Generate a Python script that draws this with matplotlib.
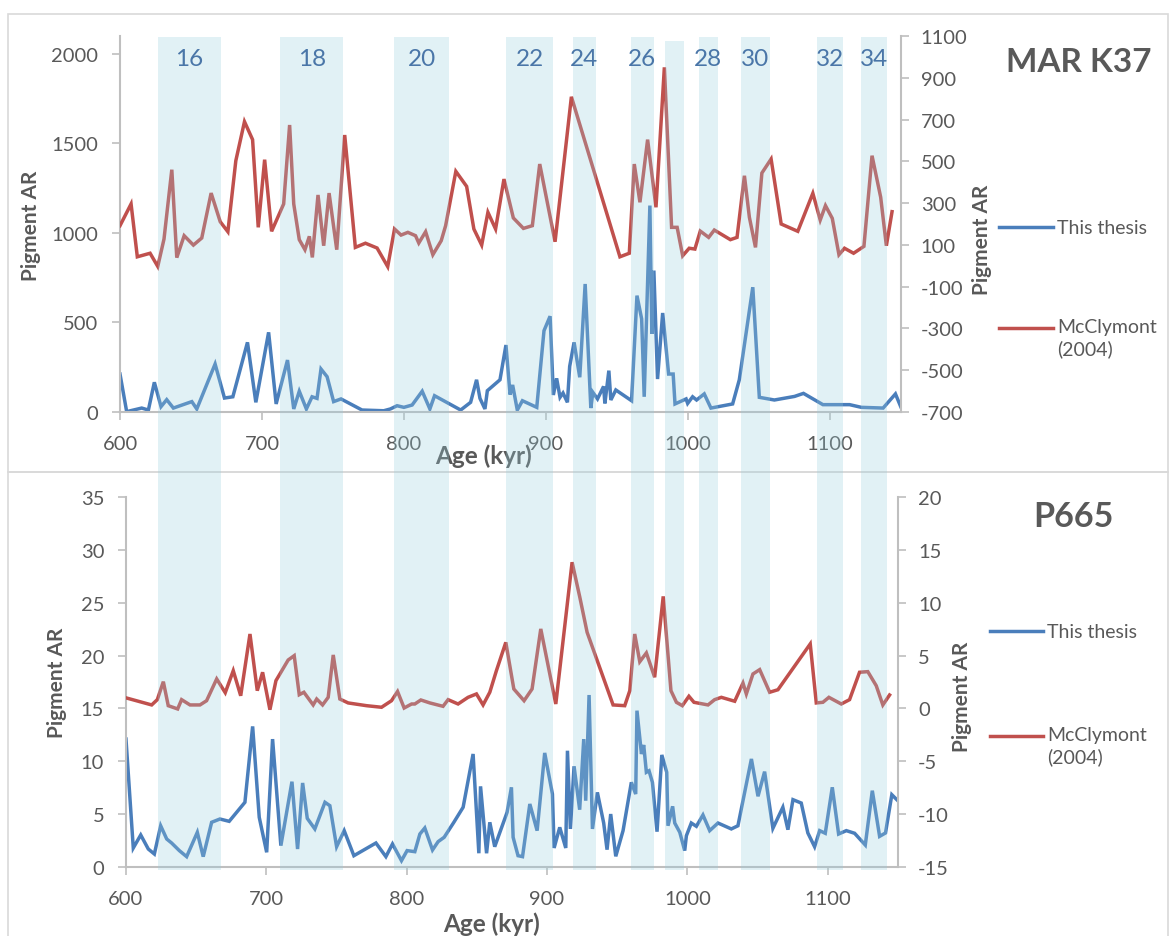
import matplotlib
matplotlib.use("Agg")
import matplotlib.pyplot as plt
from matplotlib.patches import Rectangle
from matplotlib.lines import Line2D
from matplotlib.transforms import blended_transform_factory

plt.rcParams['font.family'] = ['Lato', 'DejaVu Sans']
plt.rcParams['axes.unicode_minus'] = False

# ---------------- data ----------------
mar_thesis_age = [600, 604.7, 615.3, 620, 624.2, 628.9, 632.9, 637.6, 650.6, 654.1, 667, 673.6, 679.5,
                  689.8, 695.7, 704.7, 710, 718, 722.4, 726.3, 731.3, 735.3, 738.8, 741.6, 745.9, 750.5,
                  755.7, 770.5, 785.8, 790.5, 795.2, 800, 805.8, 812.9, 818.3, 821.6, 840, 847, 851.2,
                  853.6, 857.1, 858.8, 867.7, 871.9, 874.8, 876.6, 879.9, 883.5, 893.6, 898.7, 903,
                  905.3, 907.6, 910, 912.1, 915.2, 916.8, 919.9, 923.9, 927.7, 931.7, 933.1, 936.4,
                  940.7, 941.6, 944.4, 945.8, 949.3, 960.4, 964.2, 967.5, 969.3, 973.3, 974.7, 976.1,
                  978.7, 982.3, 986.5, 989.7, 991, 998.8, 999.9, 1003.4, 1006.2, 1011.6, 1016.3, 1031.6,
                  1036.3, 1045.8, 1050.4, 1061, 1075.2, 1081.5, 1095.2, 1114, 1122.3, 1137.6, 1146.3, 1150]
mar_thesis = [212, 2, 22, 11, 166, 30, 69, 22, 58, 17, 268, 78, 85,
              389, 54, 445, 45, 290, 17, 116, 17, 85, 76, 240, 197, 58,
              73, 11, 7, 17, 35, 26, 39, 116, 17, 91, 11, 54, 180,
              76, 17, 119, 180, 374, 97, 151, 11, 63, 26, 454, 535,
              95, 188, 82, 106, 54, 255, 389, 194, 715, 22, 110, 73,
              143, 48, 231, 67, 123, 63, 650, 520, 85, 1153, 436, 790,
              184, 553, 212, 212, 45, 73, 48, 85, 67, 101, 22, 45,
              180, 697, 82, 67, 87, 104, 41, 41, 26, 22, 101, 30]

mar_mcc_age = [600, 607.8, 612.2, 621.2, 626.6, 631, 636.5, 640, 645.2, 651.7, 657.6, 664.2, 670.6,
               676, 681.6, 687.7, 693.4, 697.4, 701.9, 706.8, 715.3, 719.5, 722.4, 726.3, 730.3,
               733.4, 735.5, 739.5, 743.5, 747.3, 752.7, 758.3, 765.8, 772.9, 781.1, 788.6, 793.4,
               798, 802.8, 808.2, 810.5, 815.3, 820.4, 826.3, 829.4, 836.6, 844.2, 849.3, 854.8,
               859.2, 864.6, 870.5, 877.1, 884.2, 890.5, 895.7, 906.5, 918, 952.2, 958.8, 962.3,
               966.3, 971.7, 977.6, 983.5, 988.6, 992.5, 996.4, 1001, 1005, 1008.8, 1014.7, 1018.7,
               1030, 1034.7, 1039.9, 1043.4, 1047.7, 1052.2, 1058.7, 1065.8, 1077.5, 1088.1, 1093.3,
               1097, 1101.8, 1106.5, 1110.4, 1116.8, 1124.1, 1129.8, 1135.9, 1139.9, 1143.9]
mar_mcc = [192, 296, 43, 60, -3, 128, 460, 39, 144, 99, 133, 348, 211,
           163, 503, 690, 604, 184, 508, 165, 296, 674, 296, 125, 77,
           141, 40, 339, 96, 348, 77, 626, 88, 108, 85, -4, 176,
           147, 160, 144, 109, 163, 53, 120, 192, 452, 380, 176, 99,
           256, 176, 415, 229, 179, 192, 487, 115, 809, 43, 60, 487,
           304, 604, 280, 950, 184, 184, 48, 84, 80, 166, 136, 171,
           125, 136, 431, 232, 88, 444, 511, 200, 165, 347, 219,
           288, 227, 53, 84, 60, 93, 527, 328, 96, 259]

p665_thesis_age = [600.2, 605.4, 610.7, 616.1, 620.4, 624.9, 629.2, 632.7, 638.2, 643.4, 651, 655.2,
                   661.2, 667.1, 673.7, 684.9, 690.4, 695.1, 700.4, 704.6, 710.5, 718.4, 722.4, 726,
                   729.3, 734.7, 741.9, 745.4, 750.2, 755.6, 762.5, 778.2, 785.3, 790, 796.4, 800.4,
                   805.9, 809.5, 813, 818.5, 822.5, 826.8, 833.7, 840.3, 847.4, 851.5, 852.7, 857,
                   859.3, 862.8, 871.6, 874.7, 875.9, 879.4, 882.6, 887.8, 893, 898.4, 903.9, 905.1,
                   909.1, 913.4, 914.6, 916.7, 919.3, 923.3, 926.2, 927.6, 930, 932.4, 935.9, 940.4,
                   942.8, 945.4, 949, 954.2, 960.1, 963.2, 964.1, 967.3, 968.9, 970.8, 972.7, 975.1,
                   978.4, 981.8, 985.3, 986.2, 989.5, 991, 994.6, 998.1, 999.3, 1002.8, 1006.4, 1011.1,
                   1015.9, 1021.8, 1031.3, 1036, 1045.6, 1050.3, 1055, 1060.9, 1068, 1071.6, 1075.2,
                   1081.1, 1085.8, 1090.6, 1094.2, 1098.2, 1103.2, 1107.7, 1113.2, 1119.1, 1126.7,
                   1131.7, 1136.9, 1141.1, 1145.6, 1149.9]
p665_thesis = [12.1, 1.8, 3.03, 1.7, 1.23, 3.9, 2.65, 2.27, 1.55, 0.98, 3.28, 0.98,
               4.23, 4.54, 4.32, 6.12, 13.3, 4.7, 1.39, 12.1, 2.02, 8.07, 1.7, 7.95,
               4.6, 3.6, 6.12, 5.8, 1.92, 3.44, 1.07, 2.27, 0.98, 2.18, 0.6, 1.55,
               1.45, 3.12, 3.69, 1.61, 2.4, 2.81, 4.23, 5.65, 10.69, 1.3, 7.63, 1.3,
               4.23, 1.92, 5.17, 7.54, 2.81, 1.07, 0.98, 5.96, 3.44, 10.79, 6.9, 1.8,
               3.75, 1.8, 11.0, 3.6, 9.53, 5.42, 12.1, 6.27, 16.27, 3.6, 7.06, 4.16,
               1.64, 5.01, 1.01, 3.44, 8.01, 6.9, 14.79, 10.69, 11.54, 8.96, 9.1, 8.01,
               3.34, 10.6, 8.96, 3.9, 5.74, 4.16, 3.28, 1.55, 2.96, 4.16, 3.85, 4.92,
               3.44, 4.16, 3.6, 3.9, 10.22, 6.69, 9.02, 3.66, 5.65, 3.53, 6.37,
               6.05, 3.22, 1.92, 3.44, 3.19, 7.54, 3.12, 3.44, 3.19, 2.08,
               7.22, 2.9, 3.22, 6.84, 6.27]

p665_mcc_age = [600.2, 618.5, 622.5, 626.8, 630.3, 637, 639.8, 645.8, 652.9, 657.6, 664.8, 670.9,
                676.6, 681.9, 688.5, 693.7, 697.5, 702.7, 707, 715.7, 720, 723.6, 726.9, 733.5,
                736, 740.2, 744.2, 747.8, 752.5, 758.4, 771.5, 782.2, 789.3, 793.6, 798.3, 803.6,
                805.9, 810.2, 816.6, 826, 829.6, 836.7, 843.8, 849.8, 854.5, 859.3, 864, 870.7,
                876.4, 883.7, 889.4, 895.6, 906.3, 917.9, 923.4, 928.6, 947.1, 955.4, 959, 962.5,
                966.1, 970.8, 976.7, 982.8, 988.3, 992.2, 996.4, 1001.1, 1004.7, 1014.7, 1019.4,
                1024.2, 1033.7, 1039.6, 1042, 1046.7, 1051.5, 1058.6, 1064.5, 1087.5, 1091.8,
                1096.5, 1100.8, 1109.6, 1115.5, 1122.6, 1128.5, 1134.5, 1139.2, 1144]
p665_mcc = [1.0, 0.33, 0.83, 2.53, 0.26, -0.05, 0.83, 0.33, 0.33, 0.73, 2.79, 1.49,
            3.57, 1.2, 7.04, 1.68, 3.42, -0.12, 2.63, 4.58, 4.99, 1.3, 1.53, 0.33,
            0.89, 0.33, 1.05, 5.06, 0.89, 0.52, 0.26, 0.11, 0.73, 1.6, 0.04, 0.42,
            0.42, 0.8, 0.52, 0.2, 0.83, 0.42, 1.05, 1.37, 0.33, 1.53, 3.57, 6.25,
            1.84, 0.73, 1.84, 7.52, 0.42, 13.83, 10.52, 7.2, 0.33, 0.26, 1.68, 7.04,
            4.42, 5.25, 2.95, 10.6, 1.68, 0.58, 0.26, 1.15, 0.58, 0.33, 0.83,
            1.05, 0.68, 2.4, 1.37, 3.26, 3.67, 1.53, 1.77, 6.1, 0.52,
            0.58, 1.05, 0.42, 0.83, 3.42, 3.48, 2.15, 0.33, 1.27]

# glacial stage bands (kyr) and labels
band_start = [627, 713, 793, 872, 919, 960, 984, 1008, 1037.5, 1091, 1122]
band_end = [671, 757, 832, 905, 935, 976, 997, 1021, 1058, 1109, 1140]
band_label = ['16', '18', '20', '22', '24', '26', '', '28', '30', '32', '34']

series_names = ['This thesis', 'McClymont\n(2004)']

# ---------------- style ----------------
W, H = 1170, 937
BLUE = '#4a7ebb'
RED = '#c0504d'
GRID = '#bfbfbf'
TXT = '#595959'
TICK_FS = 14.5


def fx(x):
    return x / W


def fy(y):
    return 1 - y / H


fig = plt.figure(figsize=(W / 100, H / 100), dpi=100)

# panel frames
for (x0, y0, x1, y1) in [(8, 15, 1168, 473), (8, 473, 1168, 940)]:
    fig.patches.append(Rectangle((fx(x0), fy(y1)), fx(x1) - fx(x0), fy(y0) - fy(y1),
                                 transform=fig.transFigure, fill=False,
                                 edgecolor='#d9d9d9', linewidth=1.2, zorder=0))


def style_axes(ax, ax2):
    for a in (ax, ax2):
        a.set_facecolor('none')
        a.spines['top'].set_visible(False)
    ax.spines['right'].set_visible(False)
    ax.spines['left'].set_color(GRID)
    ax.spines['bottom'].set_color(GRID)
    ax.spines['left'].set_linewidth(1.5)
    ax.spines['bottom'].set_linewidth(1.5)
    ax2.spines['left'].set_visible(False)
    ax2.spines['bottom'].set_visible(False)
    ax2.spines['right'].set_color(GRID)
    ax2.spines['right'].set_linewidth(1.5)
    ax.tick_params(axis='y', colors=GRID, labelcolor=TXT, labelsize=TICK_FS,
                   length=5.5, width=1.2, direction='out', pad=10)
    ax.tick_params(axis='x', colors=GRID, labelcolor=TXT, labelsize=TICK_FS,
                   length=5.5, width=1.2, direction='out', pad=11)
    ax2.tick_params(axis='y', colors=GRID, labelcolor=TXT, labelsize=TICK_FS,
                    length=5.5, width=1.2, direction='out', pad=9)
    ax.set_xlim(600, 1150)
    ax.set_xticks([600, 700, 800, 900, 1000, 1100])


# ---------------- top panel ----------------
axA = fig.add_axes([fx(120), fy(413), fx(900.7) - fx(120), fy(37) - fy(413)])
axA2 = axA.twinx()
axA.plot(mar_thesis_age, mar_thesis, color=BLUE, lw=2.5, solid_joinstyle='miter')
axA2.plot(mar_mcc_age, mar_mcc, color=RED, lw=2.5, solid_joinstyle='miter')
axA.set_ylim(0, 2100)
axA.set_yticks([0, 500, 1000, 1500, 2000])
axA2.set_ylim(-700, 1100)
axA2.set_yticks(list(range(-700, 1101, 200)))
style_axes(axA, axA2)

# ---------------- bottom panel ----------------
axB = fig.add_axes([fx(125.7), fy(868), fx(898) - fx(125.7), fy(498) - fy(868)])
axB2 = axB.twinx()
axB.plot(p665_thesis_age, p665_thesis, color=BLUE, lw=2.5, solid_joinstyle='miter')
axB2.plot(p665_mcc_age, p665_mcc, color=RED, lw=2.5, solid_joinstyle='miter')
axB.set_ylim(0, 35)
axB.set_yticks(list(range(0, 36, 5)))
axB2.set_ylim(-15, 20)
axB2.set_yticks(list(range(-15, 21, 5)))
style_axes(axB, axB2)

# ---------------- bands (overlay) ----------------
btrans = blended_transform_factory(axA.transData, fig.transFigure)
for s, e, lab in zip(band_start, band_end, band_label):
    top = 38 if lab else 42
    fig.patches.append(Rectangle((s, fy(871)), e - s, fy(top) - fy(871), transform=btrans,
                                 facecolor='#96cddc', edgecolor='none', alpha=0.28, zorder=5))
    if lab:
        fig.text((s + e) / 2, fy(60), lab, transform=btrans,
                 ha='center', va='center', fontsize=17.5, color='#4a76a8', zorder=6)

# ---------------- labels ----------------
lab_kw = dict(fontsize=15, fontweight='bold', color=TXT)
fig.text(fx(31), fy(226), 'Pigment AR', rotation=90, ha='center', va='center', **lab_kw)
fig.text(fx(982), fy(240), 'Pigment AR', rotation=90, ha='center', va='center', **lab_kw)
fig.text(fx(57), fy(683), 'Pigment AR', rotation=90, ha='center', va='center', **lab_kw)
fig.text(fx(962), fy(697), 'Pigment AR', rotation=90, ha='center', va='center', **lab_kw)
age_kw = dict(fontsize=17.5, fontweight='bold', color=TXT)
fig.text(fx(484), fy(456), 'Age (kyr)', ha='center', va='center', **age_kw)
fig.text(fx(492), fy(924), 'Age (kyr)', ha='center', va='center', **age_kw)

fig.text(fx(1079), fy(63), 'MAR K37', ha='center', va='center', fontsize=24,
         fontweight='bold', color=TXT)
fig.text(fx(1073), fy(517), 'P665', ha='center', va='center', fontsize=24.5,
         fontweight='bold', color=TXT)

# ---------------- legends ----------------
for (lx0, lx1, yb, yr) in [(999, 1053, 228, 329), (990, 1043, 632, 737)]:
    fig.add_artist(Line2D([fx(lx0), fx(lx1)], [fy(yb), fy(yb)], color=BLUE, lw=2.5,
                          transform=fig.transFigure))
    fig.add_artist(Line2D([fx(lx0), fx(lx1)], [fy(yr), fy(yr)], color=RED, lw=2.5,
                          transform=fig.transFigure))
    fig.text(fx(lx1 + 4), fy(yb), series_names[0], ha='left', va='center',
             fontsize=14, color=TXT)
    fig.text(fx(lx1 + 4), fy(yr - 10), series_names[1], ha='left', va='top',
             fontsize=14, color=TXT, linespacing=1.3)

fig.savefig('out.png', dpi=100)
